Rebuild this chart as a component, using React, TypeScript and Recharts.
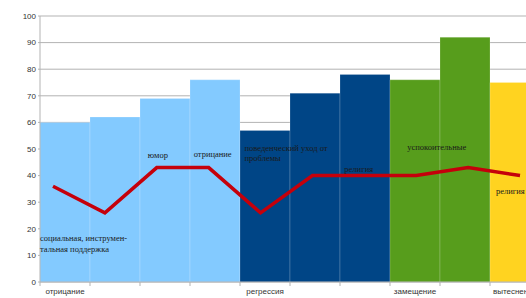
import {
  Bar,
  CartesianGrid,
  Cell,
  ComposedChart,
  LabelList,
  Line,
  XAxis,
  YAxis,
} from "recharts";

// groups of defence mechanisms (tick label is shown on the first bar of each group)
const groups = ["отрицание", "регрессия", "замещение", "вытеснение"];
const barGroup = [0, 0, 0, 0, 1, 1, 1, 2, 2, 3];
const barValues = [60, 62, 69, 76, 57, 71, 78, 76, 92, 75];
const lineValues = [36, 26, 43, 43, 26, 40, 40, 40, 43, 40];
const notes = [
  ["социальная, инструмен-", "тальная поддержка"],
  [],
  ["юмор"],
  ["отрицание"],
  ["поведенческий уход от", "проблемы"],
  [],
  ["религия"],
  ["успокоительные"],
  [],
  ["религия"],
];
const yTicks = [0, 10, 20, 30, 40, 50, 60, 70, 80, 90, 100];
const dashTicks = [
  0, 1, 2, 3, 4, 5, 6, 7, 8, 9, 10, 11, 12, 13, 14, 15, 16, 17, 18, 19, 20,
  21, 22, 23, 24, 25,
];

const groupColors = ["#83caff", "#004586", "#579d1c", "#ffd320"];
// where each note sits relative to its line point
const noteOffsets = [
  [-13, 55],
  [0, 0],
  [-9, -10],
  [-15, -11],
  [-16, -62],
  [0, 0],
  [-20, -4],
  [-9, -26],
  [0, 0],
  [-24, 18],
];

const rows = barValues.map((v, i) => ({
  idx: i,
  bar: v,
  line: lineValues[i],
}));

const sans = "'Liberation Sans', Arial, sans-serif";
const serif = "'Liberation Serif', 'Times New Roman', serif";

function XTick(props: any) {
  const { x, y, payload, index } = props;
  const half = payload?.offset ?? 25;
  const first = index === 0 || barGroup[index] !== barGroup[index - 1];
  return (
    <g>
      <line x1={x - half} y1={y} x2={x - half} y2={y + 4} stroke="#b3b3b3" />
      {first && (
        <text
          x={x}
          y={y + 12}
          textAnchor="middle"
          fontSize={8}
          fontFamily={sans}
          fill="#333"
        >
          {groups[barGroup[index]]}
        </text>
      )}
    </g>
  );
}

function renderNote(props: any) {
  const { x, y, index } = props;
  const lines = notes[index] || [];
  if (!lines.length) return null;
  const [dx, dy] = noteOffsets[index];
  return (
    <text
      x={x + dx}
      y={y + dy}
      fontSize={8.5}
      fontFamily={serif}
      fill="#1a1a1a"
    >
      {lines.map((t, k) => (
        <tspan key={k} x={x + dx} dy={k === 0 ? 0 : 10.5}>
          {t}
        </tspan>
      ))}
    </text>
  );
}

export default function App() {
  return (
    <div style={{ width: 526, height: 298, overflow: "hidden", background: "#fff" }}>
      <style>{"body{margin:0}"}</style>
      <ComposedChart
        width={550}
        height={298}
        data={rows}
        barCategoryGap={0}
        margin={{ top: 16, right: 10, bottom: 0, left: 0 }}
      >
        <CartesianGrid vertical={false} stroke="#b3b3b3" />
        <XAxis
          dataKey="idx"
          type="category"
          interval={0}
          height={16}
          tickSize={0}
          tickMargin={0}
          tickLine={false}
          axisLine={{ stroke: "#b3b3b3" }}
          tick={<XTick />}
        />
        <XAxis
          xAxisId="line"
          dataKey="idx"
          type="number"
          domain={[-0.2505, 9.385]}
          allowDataOverflow
          hide
        />
        <YAxis
          domain={[0, 100]}
          ticks={yTicks}
          interval={0}
          width={30}
          tickSize={2}
          tickMargin={2}
          axisLine={{ stroke: "#b3b3b3" }}
          tickLine={{ stroke: "#b3b3b3" }}
          tick={{ fontSize: 8, fontFamily: sans, fill: "#333" }}
        />
        <YAxis
          yAxisId="dash"
          orientation="left"
          domain={[0, 25]}
          ticks={dashTicks}
          interval={0}
          width={10}
          tickSize={3}
          axisLine={false}
          tickLine={{ stroke: "#cfcfcf" }}
          tick={false}
        />
        <Bar
          dataKey="bar"
          isAnimationActive={false}
          stroke="#ffffff"
          strokeOpacity={0.18}
        >
          {rows.map((r, i) => (
            <Cell key={r.idx} fill={groupColors[barGroup[i]]} />
          ))}
        </Bar>
        <Line
          xAxisId="line"
          dataKey="line"
          type="linear"
          stroke="#c5000b"
          strokeWidth={3.5}
          dot={false}
          activeDot={false}
          isAnimationActive={false}
        >
          <LabelList dataKey="line" content={renderNote} />
        </Line>
      </ComposedChart>
    </div>
  );
}
